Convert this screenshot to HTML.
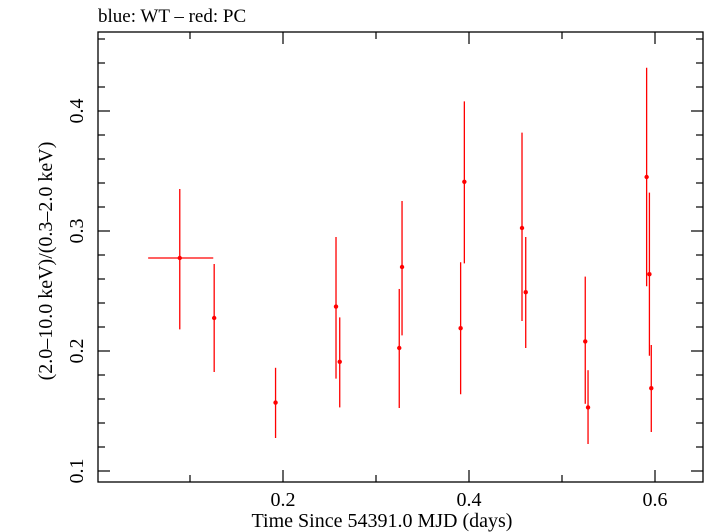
<!DOCTYPE html>
<html><head><meta charset="utf-8"><style>
html,body{margin:0;padding:0;background:#fff;}
svg{display:block;font-family:"Liberation Serif",serif;}
</style></head><body>
<svg id="chart" width="705" height="532">
<text x="98" y="22" font-size="19">blue: WT – red: PC</text>
<rect x="98" y="32" width="605" height="450" fill="none" stroke="#000" stroke-width="1.3"/>
<g id="axes"></g>
<g id="marks"></g>
<text x="382" y="527" font-size="20" text-anchor="middle">Time Since 54391.0 MJD (days)</text>
<text transform="translate(52,261) rotate(-90)" font-size="20" text-anchor="middle">(2.0–10.0 keV)/(0.3–2.0 keV)</text>
</svg>
<script>
const times = [0.089,0.126,0.192,0.257,0.261,0.325,0.328,0.391,0.395,0.457,0.461,0.525,0.528,0.591,0.594,0.596];
const tLow  = [0.055,0.126,0.192,0.257,0.261,0.325,0.328,0.391,0.395,0.457,0.461,0.525,0.528,0.591,0.594,0.596];
const tHigh = [0.125,0.126,0.192,0.257,0.261,0.325,0.328,0.391,0.395,0.457,0.461,0.525,0.528,0.591,0.594,0.596];
const ratios = [0.2775,0.2275,0.157,0.237,0.191,0.2025,0.27,0.219,0.341,0.3025,0.249,0.208,0.153,0.345,0.264,0.169];
const errLow = [0.218,0.1825,0.1275,0.177,0.153,0.1525,0.213,0.164,0.273,0.225,0.2025,0.156,0.1225,0.254,0.196,0.1325];
const errHigh = [0.335,0.2725,0.186,0.295,0.228,0.2517,0.325,0.274,0.408,0.382,0.295,0.262,0.184,0.436,0.332,0.205];
const xTicks = [0.2,0.4,0.6];
const xTickLabels = ["0.2","0.4","0.6"];
const yTicks = [0.1,0.2,0.3,0.4];
const yTickLabels = ["0.1","0.2","0.3","0.4"];

const X0=98,X1=703,Y0=32,Y1=482;
function xs(t){return 97+t*930;}
function ys(v){return 471-(v-0.1)*1200;}
const NS="http://www.w3.org/2000/svg";
function mk(tag,attrs,parent){const e=document.createElementNS(NS,tag);for(const k in attrs)e.setAttribute(k,attrs[k]);parent.appendChild(e);return e;}
const axes=document.getElementById('axes'), marks=document.getElementById('marks');
for(let i=1;i<=6;i++){const t=i/10,x=xs(t);if(x<X0||x>X1)continue;const len=(i%2===0)?12:7;
 const a=mk('line',{x1:x,x2:x,y1:Y1,y2:Y1-len,stroke:'#000','stroke-width':1.2},axes);
 
 
 const b=mk('line',{x1:x,x2:x,y1:Y0,y2:Y0+len,stroke:'#000','stroke-width':1.2},axes);
 
 }
xTicks.forEach((t,i)=>{const e=mk('text',{x:xs(t),y:506,'font-size':20,'text-anchor':'middle'},axes);e.textContent=xTickLabels[i];
 
 });
for(let i=0;i<=20;i++){const v=0.08+i*0.02,y=ys(v);if(y<Y0||y>Y1)continue;const major=Math.abs((v*10)-Math.round(v*10))<1e-6;const len=major?12:7;
 const a=mk('line',{x1:X0,x2:X0+len,y1:y,y2:y,stroke:'#000','stroke-width':1.2},axes);
 
 
 const b=mk('line',{x1:X1,x2:X1-len,y1:y,y2:y,stroke:'#000','stroke-width':1.2},axes);
 
 }
yTicks.forEach((v,i)=>{const y=ys(v);const e=mk('text',{transform:`translate(83,${y}) rotate(-90)`,'font-size':20,'text-anchor':'middle'},axes);e.textContent=yTickLabels[i];
 
 });
times.forEach((t,i)=>{const g=mk('g',{},marks);
 
 
 mk('line',{x1:xs(t),x2:xs(t),y1:ys(errLow[i]),y2:ys(errHigh[i]),stroke:'#f00','stroke-width':1.3},g);
 if(tHigh[i]>tLow[i])mk('line',{x1:xs(tLow[i]),x2:xs(tHigh[i]),y1:ys(ratios[i]),y2:ys(ratios[i]),stroke:'#f00','stroke-width':1.3},g);
 mk('circle',{cx:xs(t),cy:ys(ratios[i]),r:2.2,fill:'#f00'},g);});
</script>
</body></html>
